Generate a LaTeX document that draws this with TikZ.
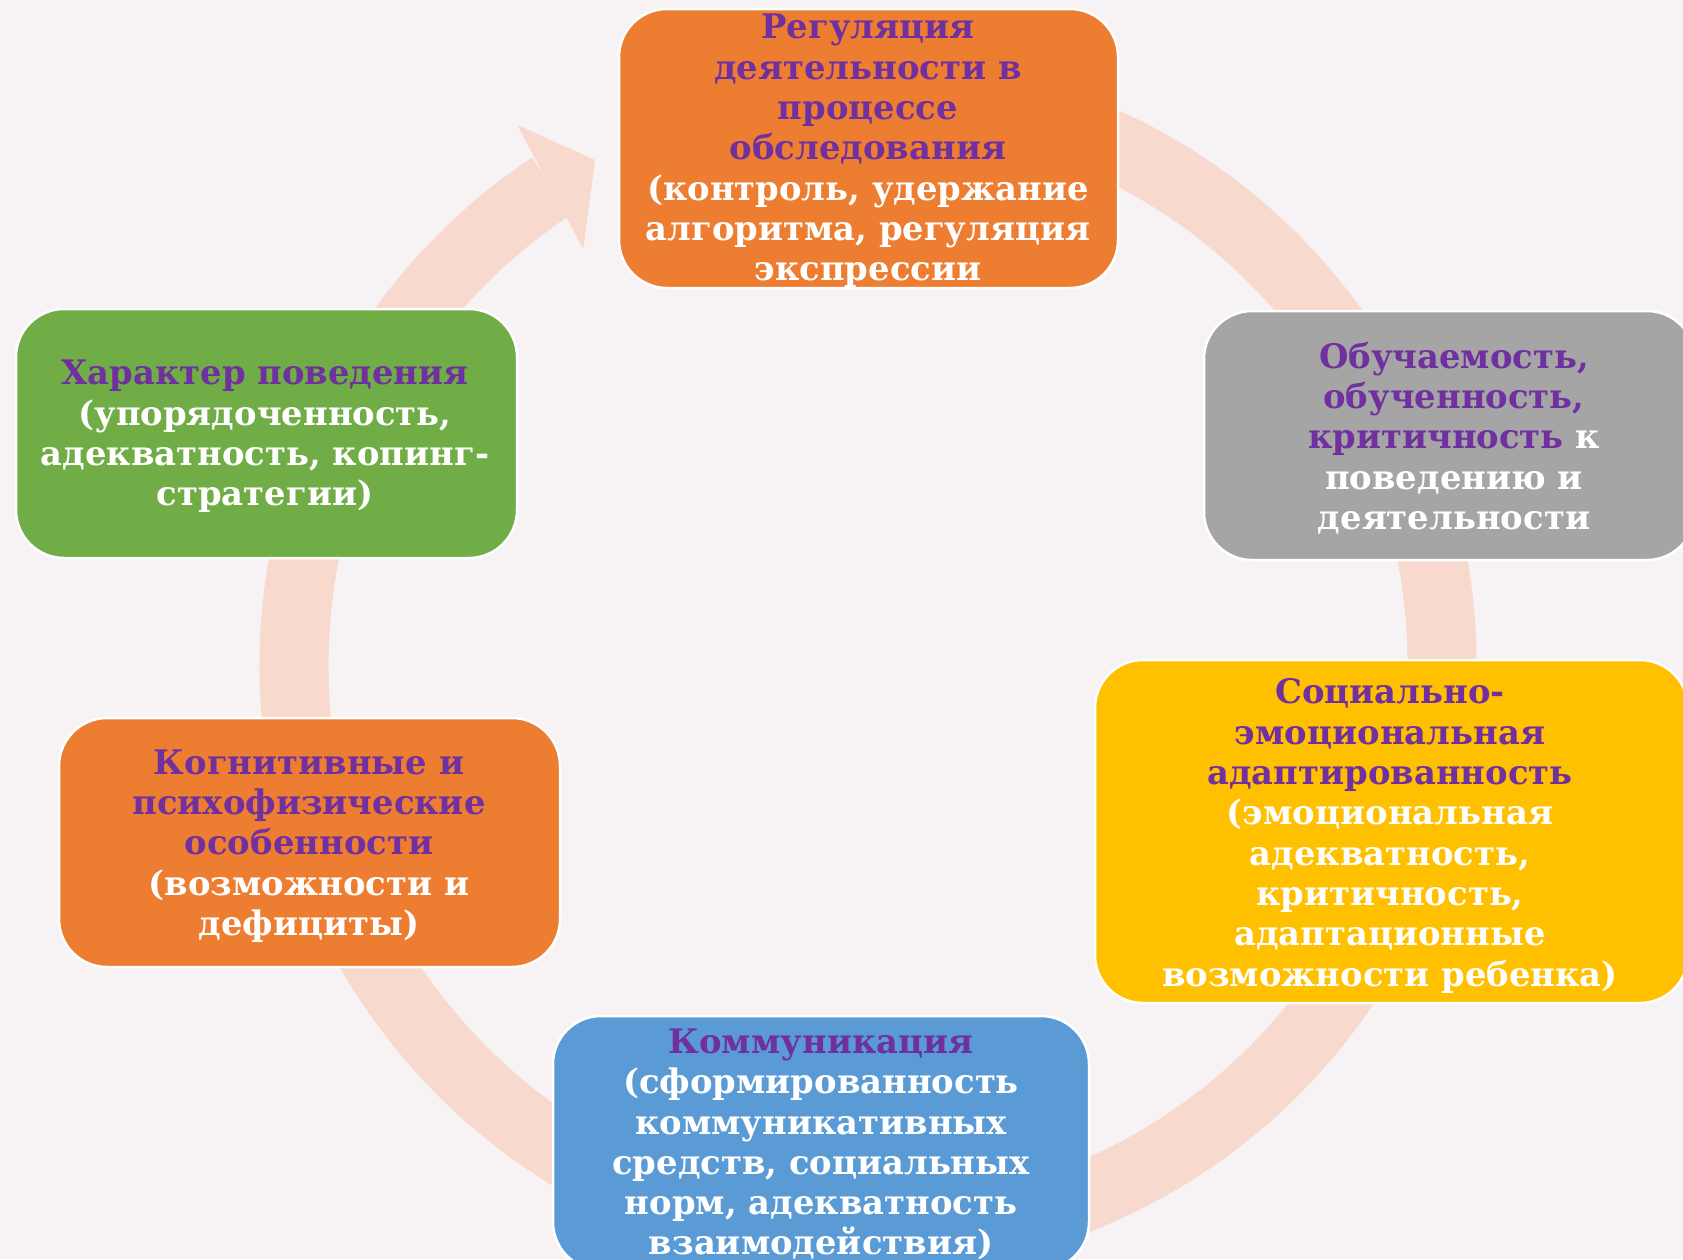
\documentclass[tikz,border=0pt]{standalone}
\usepackage{fontspec}
\setmainfont{DejaVu Serif}
\definecolor{bg}{HTML}{F7F3F4}
\definecolor{ringc}{HTML}{F8D9CE}
\definecolor{orng}{HTML}{ED7D31}
\definecolor{gry}{HTML}{A5A5A5}
\definecolor{grn}{HTML}{70AD47}
\definecolor{ylw}{HTML}{FFC000}
\definecolor{blu}{HTML}{5B9BD5}
\definecolor{purp}{HTML}{7030A0}
\begin{document}
\begin{tikzpicture}[x=1pt,y=-1pt,
  box/.style={draw=white,line width=2.5pt,rounded corners=48pt,inner sep=0pt,outer sep=0pt},
  txt/.style={text=white,align=center,inner sep=0pt,font=\fontsize{33.8}{40.3}\selectfont\bfseries}]
\fill[bg] (0,0) rectangle (1683,1259);
\useasboundingbox (0,0) rectangle (1683,1259);
\coordinate (c) at (868,665);
% cycle ring
\draw[ringc,line width=69pt] ([shift={(-85:574)}]c) arc[start angle=-85,end angle=236.5,radius=574];
\coordinate (hb1) at ([shift={(237:644)}]c);
\coordinate (hb2) at ([shift={(235.6:504)}]c);
\coordinate (ht) at ([shift={(241.6:574)}]c);
\fill[ringc] (hb1) -- (ht) -- (hb2) -- cycle;
% boxes
\node[box,fill=orng,minimum width=499pt,minimum height=279pt] (b1) at (868.5,148.5) {};
\node[box,fill=gry,minimum width=491pt,minimum height=249pt] (b2) at (1449.5,435.5) {};
\node[box,fill=ylw,minimum width=593pt,minimum height=343pt] (b3) at (1391.5,831.5) {};
\node[box,fill=blu,minimum width=536pt,minimum height=254pt] (b4) at (821,1143) {};
\node[box,fill=orng,minimum width=501pt,minimum height=249pt] (b5) at (309.5,842.5) {};
\node[box,fill=grn,minimum width=501pt,minimum height=249pt] (b6) at (266.5,433.5) {};
% texts
\node[txt] (t1) at (868,151) {\textcolor{purp}{Регуляция}\\\textcolor{purp}{деятельности в}\\\textcolor{purp}{процессе}\\\textcolor{purp}{обследования}\\(контроль, удержание\\алгоритма, регуляция\\экспрессии};
\node[txt] (t2) at (1454,438) {\textcolor{purp}{Обучаемость,}\\\textcolor{purp}{обученность,}\\\textcolor{purp}{критичность} к\\поведению и\\деятельности};
\node[txt] (t3) at (1390,836) {\textcolor{purp}{Социально-}\\\textcolor{purp}{эмоциональная}\\\textcolor{purp}{адаптированность}\\(эмоциональная\\адекватность,\\критичность,\\адаптационные\\возможности ребенка)};
\node[txt] (t4) at (821,1144.5) {\textcolor{purp}{Коммуникация}\\(сформированность\\коммуникативных\\средств, социальных\\норм, адекватность\\взаимодействия)};
\node[txt] (t5) at (309,846) {\textcolor{purp}{Когнитивные и}\\\textcolor{purp}{психофизические}\\\textcolor{purp}{особенности}\\(возможности и\\дефициты)};
\node[txt] (t6) at (265,436.5) {\textcolor{purp}{Характер поведения}\\(упорядоченность,\\адекватность, копинг-\\стратегии)};
\end{tikzpicture}
\end{document}
